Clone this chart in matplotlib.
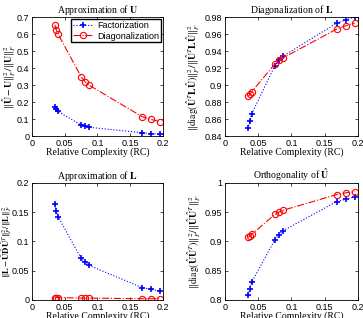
import matplotlib
matplotlib.use("Agg")
import matplotlib.pyplot as plt

# relative complexity (shared x values)
rc = [0.035, 0.037, 0.040, 0.075, 0.081, 0.087, 0.168, 0.182, 0.195]

# Approximation of U
approxU_fact = [0.170, 0.160, 0.145, 0.065, 0.058, 0.052, 0.020, 0.015, 0.012]
approxU_diag = [0.655, 0.625, 0.600, 0.350, 0.320, 0.300, 0.115, 0.098, 0.085]

# Diagonalization of L
diagL_fact = [0.849, 0.858, 0.866, 0.923, 0.929, 0.934, 0.973, 0.977, 0.980]
diagL_diag = [0.887, 0.889, 0.892, 0.925, 0.929, 0.932, 0.966, 0.970, 0.973]

# Approximation of L
approxL_fact = [0.163, 0.152, 0.142, 0.071, 0.064, 0.059, 0.021, 0.018, 0.015]
approxL_diag = [0.004, 0.004, 0.004, 0.003, 0.003, 0.003, 0.002, 0.002, 0.002]

# Orthogonality of U hat
orth_fact = [0.808, 0.818, 0.830, 0.903, 0.911, 0.918, 0.968, 0.972, 0.976]
orth_diag = [0.907, 0.909, 0.912, 0.946, 0.950, 0.953, 0.980, 0.983, 0.985]

plt.rcParams['font.family'] = ['Liberation Sans', 'DejaVu Sans']
plt.rcParams['mathtext.fontset'] = 'stix'

fig = plt.figure(figsize=(3.63, 3.18), dpi=100)

panels = [
    ([0.088, 0.572, 0.361, 0.374], approxU_fact, approxU_diag,
     r'Approximation of $\mathbf{U}$',
     r'$\|\hat{\mathbf{U}}-\mathbf{U}\|_F^2/\|\mathbf{U}\|_F^2$',
     (0, 0.7), [0, 0.1, 0.2, 0.3, 0.4, 0.5, 0.6, 0.7], ['0', '0.1', '0.2', '0.3', '0.4', '0.5', '0.6', '0.7'],
     -0.107, 7),
    ([0.620, 0.572, 0.366, 0.374], diagL_fact, diagL_diag,
     r'Diagonalization of $\mathbf{L}$',
     r'$\|\mathrm{diag}(\hat{\mathbf{U}}^T\mathbf{L}\hat{\mathbf{U}})\|_F^2/\|\hat{\mathbf{U}}^T\mathbf{L}\hat{\mathbf{U}}\|_F^2$',
     (0.84, 0.98), [0.84, 0.86, 0.88, 0.9, 0.92, 0.94, 0.96, 0.98],
     ['0.84', '0.86', '0.88', '0.9', '0.92', '0.94', '0.96', '0.98'],
     -0.172, 7),
    ([0.088, 0.057, 0.361, 0.368], approxL_fact, approxL_diag,
     r'Approximation of $\mathbf{L}$',
     r'$\|\mathbf{L}-\hat{\mathbf{U}}\hat{\mathbf{D}}\hat{\mathbf{U}}^T\|_F^2/\|\mathbf{L}\|_F^2$',
     (0, 0.2), [0, 0.05, 0.1, 0.15, 0.2], ['0', '0.05', '0.1', '0.15', '0.2'],
     -0.135, 6.2),
    ([0.620, 0.057, 0.366, 0.368], orth_fact, orth_diag,
     r'Orthogonality of $\hat{\mathbf{U}}$',
     r'$\|\mathrm{diag}(\hat{\mathbf{U}}\hat{\mathbf{U}}^T)\|_F^2/\|\hat{\mathbf{U}}\hat{\mathbf{U}}^T\|_F^2$',
     (0.8, 1.0), [0.8, 0.85, 0.9, 0.95, 1.0], ['0.8', '0.85', '0.9', '0.95', '1'],
     -0.165, 7),
]

for i, (rect, yf, yd, title, ylab, ylim, yt, ytl, labx, labfs) in enumerate(panels):
    ax = fig.add_axes(rect)
    ax.plot(rc, yf, ':', color='#0000ff', marker='+', markersize=5, markeredgewidth=1.2,
            linewidth=0.8, label='Factorization')
    ax.plot(rc, yd, '-.', color='#ff0000', marker='o', markersize=4.5, markerfacecolor='none',
            markeredgewidth=0.8, linewidth=0.8, label='Diagonalization')
    ax.set_xlim(0, 0.2)
    ax.set_ylim(*ylim)
    ax.set_xticks([0, 0.05, 0.1, 0.15, 0.2])
    ax.set_xticklabels(['0', '0.05', '0.1', '0.15', '0.2'])
    ax.set_yticks(yt)
    ax.set_yticklabels(ytl)
    ax.tick_params(direction='in', length=2.5, labelsize=6.5, width=0.5, pad=2,
                   top=True, right=True)
    for s in ax.spines.values():
        s.set_linewidth(0.6)
    ax.set_title(title, fontsize=7, family='Liberation Serif', pad=3)
    ax.set_xlabel('Relative Complexity (RC)', fontsize=7, family='Liberation Serif', labelpad=0)
    ax.set_ylabel(ylab, fontsize=labfs)
    ax.yaxis.set_label_coords(labx, 0.5)
    if i == 0:
        ax.legend(loc='upper right', fontsize=6.5, handlelength=2.2, borderpad=0.2,
                  labelspacing=0.2, handletextpad=0.5, fancybox=False, framealpha=1,
                  edgecolor='black', borderaxespad=0.2)

fig.savefig('out.png', dpi=100)
